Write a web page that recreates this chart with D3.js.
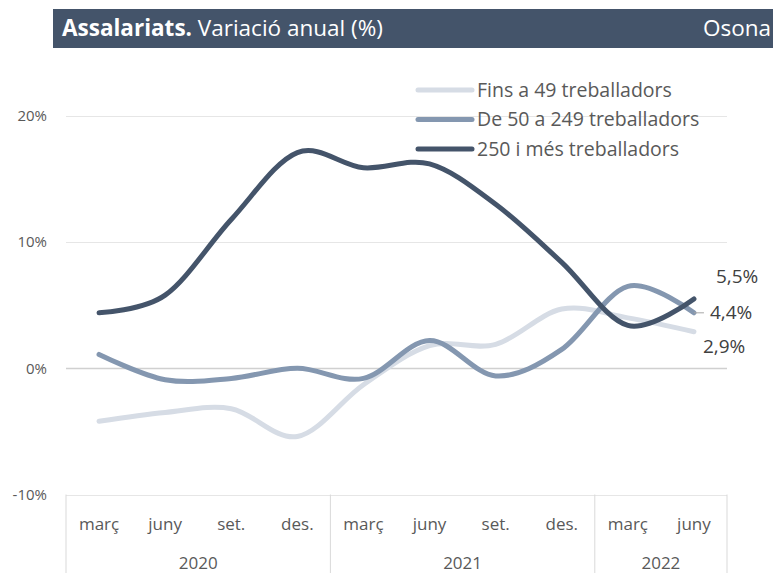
<!DOCTYPE html>
<html>
<head>
<meta charset="utf-8">
<script src="https://cdn.jsdelivr.net/npm/d3@7"></script>
<style>
  body { margin: 0; background: #fff; }
  text { font-family: "Open Sans", sans-serif; }
</style>
</head>
<body>
<div id="chart"></div>
<script>
// Data
const months = ["març", "juny", "set.", "des.", "març", "juny", "set.", "des.", "març", "juny"];
const years = ["2020", "2021", "2022"];
const monthsPerYear = [4, 4, 2];
const seriesNames = ["Fins a 49 treballadors", "De 50 a 249 treballadors", "250 i més treballadors"];
const small = [-4.2, -3.5, -3.2, -5.4, -1.3, 1.8, 1.9, 4.7, 4.0, 2.9];
const medium = [1.1, -0.9, -0.8, 0.0, -0.8, 2.2, -0.6, 1.5, 6.5, 4.4];
const large = [4.4, 5.8, 11.8, 17.1, 15.9, 16.2, 13.0, 8.4, 3.4, 5.5];
const yTicks = [-10, 0, 10, 20];

const colors = ["#D6DCE5", "#8497B0", "#44546A"];
const W = 773, H = 573;

const svg = d3.select("#chart").append("svg")
    .attr("width", W)
    .attr("height", H);

// header bar
svg.append("rect")
    .attr("x", 53).attr("y", 9)
    .attr("width", W - 53).attr("height", 39)
    .attr("fill", "#44546A");
const title = svg.append("text")
    .attr("x", 62).attr("y", 36)
    .attr("fill", "#fff")
    .attr("font-size", 22.5);
title.append("tspan").attr("font-weight", "bold").text("Assalariats.");
title.append("tspan").text(" Variació anual (%)");
svg.append("text")
    .attr("x", 771).attr("y", 36)
    .attr("text-anchor", "end")
    .attr("fill", "#fff")
    .attr("font-size", 22.5)
    .text("Osona");

// scales
const x = d3.scaleBand()
    .domain(d3.range(months.length))
    .range([66, 727]);
const y = d3.scaleLinear()
    .domain([-10, 20])
    .range([494.5, 116]);

// grid
svg.append("g")
    .selectAll("line")
    .data(yTicks)
    .join("line")
    .attr("x1", 66).attr("x2", 727)
    .attr("y1", d => Math.round(y(d)) + 0.5)
    .attr("y2", d => Math.round(y(d)) + 0.5)
    .attr("stroke", d => d === 0 ? "#D0D0D0" : "#E6E6E6")
    .attr("stroke-width", d => d === 0 ? 1.5 : 1);

svg.append("g")
    .selectAll("text")
    .data(yTicks)
    .join("text")
    .attr("x", 47)
    .attr("y", d => y(d))
    .attr("dy", "0.35em")
    .attr("text-anchor", "end")
    .attr("fill", "#595959")
    .attr("font-size", 15)
    .text(d => d + "%");

// category axis (months + years)
const axisBottom = 573;
const bounds = [0];
monthsPerYear.forEach(n => bounds.push(bounds[bounds.length - 1] + n));
svg.append("g")
    .selectAll("line")
    .data(bounds)
    .join("line")
    .attr("x1", d => d < months.length ? x(d) : x.range()[1])
    .attr("x2", d => d < months.length ? x(d) : x.range()[1])
    .attr("y1", y(-10))
    .attr("y2", axisBottom)
    .attr("stroke", "#D9D9D9")
    .attr("stroke-width", 1);

svg.append("g")
    .selectAll("text")
    .data(months)
    .join("text")
    .attr("x", (d, i) => x(i) + x.bandwidth() / 2)
    .attr("y", 530)
    .attr("text-anchor", "middle")
    .attr("fill", "#595959")
    .attr("font-size", 17)
    .text(d => d);

svg.append("g")
    .selectAll("text")
    .data(years)
    .join("text")
    .attr("x", (d, i) => {
        const a = x(bounds[i]);
        const b = bounds[i + 1] < months.length ? x(bounds[i + 1]) : x.range()[1];
        return (a + b) / 2;
    })
    .attr("y", 569)
    .attr("text-anchor", "middle")
    .attr("fill", "#595959")
    .attr("font-size", 17)
    .text(d => d);

// lines
const line = d3.line()
    .x((d, i) => x(i) + x.bandwidth() / 2)
    .y(d => y(d))
    .curve(d3.curveCardinal.tension(0));

const allSeries = [small, medium, large];
allSeries.forEach((s, k) => {
    svg.append("path")
        .datum(s)
        .attr("fill", "none")
        .attr("stroke", colors[k])
        .attr("stroke-width", 5)
        .attr("stroke-linecap", "round")
        .attr("d", line);
});

// end labels
const lastX = x(months.length - 1) + x.bandwidth() / 2;
const fmt = v => v.toFixed(1).replace(".", ",") + "%";
svg.append("line")
    .attr("x1", lastX).attr("x2", lastX + 10)
    .attr("y1", y(medium[9])).attr("y2", y(medium[9]))
    .attr("stroke", "#A6A6A6").attr("stroke-width", 1);
const endLabels = [
    { v: large[9], dx: 22, dy: -23 },
    { v: medium[9], dx: 16, dy: 0 },
    { v: small[9], dx: 9, dy: 15 }
];
svg.append("g")
    .selectAll("text")
    .data(endLabels)
    .join("text")
    .attr("x", d => lastX + d.dx)
    .attr("y", d => y(d.v) + d.dy)
    .attr("dy", "0.35em")
    .attr("fill", "#404040")
    .attr("font-size", 19)
    .text(d => fmt(d.v));

// legend
const legend = svg.append("g")
    .selectAll("g")
    .data(seriesNames)
    .join("g")
    .attr("transform", (d, i) => `translate(418, ${90 + i * 29.5})`);
legend.append("line")
    .attr("x1", 0).attr("x2", 54)
    .attr("stroke", (d, i) => colors[i])
    .attr("stroke-width", 5)
    .attr("stroke-linecap", "round");
legend.append("text")
    .attr("x", 59)
    .attr("dy", "0.35em")
    .attr("fill", "#595959")
    .attr("font-size", 19.5)
    .text(d => d);
</script>
</body>
</html>
